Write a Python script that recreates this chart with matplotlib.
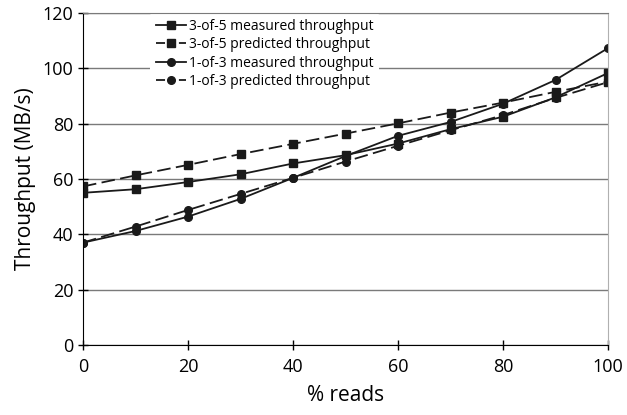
import matplotlib

matplotlib.use("Agg")
import matplotlib.pyplot as plt  # noqa: E402

plt.rcParams["font.family"] = ["Open Sans", "DejaVu Sans"]

pct_reads = [0, 10, 20, 30, 40, 50, 60, 70, 80, 90, 100]
m35_measured = [55.0, 56.3, 58.9, 61.7, 65.6, 68.6, 72.8, 78.0, 82.5, 89.5, 98.3]
m35_predicted = [57.3, 61.3, 65.1, 69.0, 72.7, 76.4, 80.1, 84.0, 87.6, 91.5, 95.2]
m13_measured = [37.0, 41.2, 46.4, 52.8, 60.4, 68.3, 75.6, 80.6, 87.2, 95.8, 107.3]
m13_predicted = [37.0, 42.8, 48.8, 54.6, 60.4, 66.3, 72.0, 77.6, 83.1, 89.3, 95.0]

DASH = (0, (7.5, 3))
series = [
    ("3-of-5 measured throughput", m35_measured, "-", "s"),
    ("3-of-5 predicted throughput", m35_predicted, DASH, "s"),
    ("1-of-3 measured throughput", m13_measured, "-", "o"),
    ("1-of-3 predicted throughput", m13_predicted, DASH, "o"),
]

fig = plt.figure(figsize=(6.27, 4.15), dpi=100)
ax = fig.add_axes([0.1324, 0.1687, 0.8373, 0.8])

for label, values, ls, marker in series:
    ax.plot(pct_reads, values, linestyle=ls, marker=marker, color="#1a1a1a",
            linewidth=1.3, markersize=6 if marker == "s" else 5.5, label=label)

ax.set_xlim(0, 100)
ax.set_ylim(0, 120)
ax.set_xticks(range(0, 101, 20))
ax.set_yticks(range(0, 121, 20))
ax.yaxis.grid(True, color="#7a7a7a", linewidth=1.0)
ax.set_axisbelow(True)
ax.spines["top"].set_color("#7a7a7a")
ax.spines["top"].set_zorder(6)
ax.spines["right"].set_color("#b0b0b0")
ax.tick_params(axis="both", labelsize=13, length=7, width=1, direction="inout")
ax.tick_params(axis="x", pad=6)
ax.set_xlabel("% reads", fontsize=15, labelpad=6)
ax.set_ylabel("Throughput (MB/s)", fontsize=15, labelpad=5)

leg = ax.legend(loc="upper left", bbox_to_anchor=(0.115, 1.02), frameon=True,
                fontsize=10, handlelength=2.2, handletextpad=0.2,
                labelspacing=0.25, borderpad=0.4)
leg.get_frame().set_edgecolor("none")
leg.get_frame().set_facecolor("white")
leg.get_frame().set_alpha(1.0)
# short "- marker -" pattern for the dashed legend keys
for handle, (_, _, ls, _) in zip(leg.get_lines(), series):
    if ls != "-":
        handle.set_linestyle((0, (5, 2.3, 3.1, 2.3, 5, 2.3)))

fig.savefig("out.png", dpi=100)
